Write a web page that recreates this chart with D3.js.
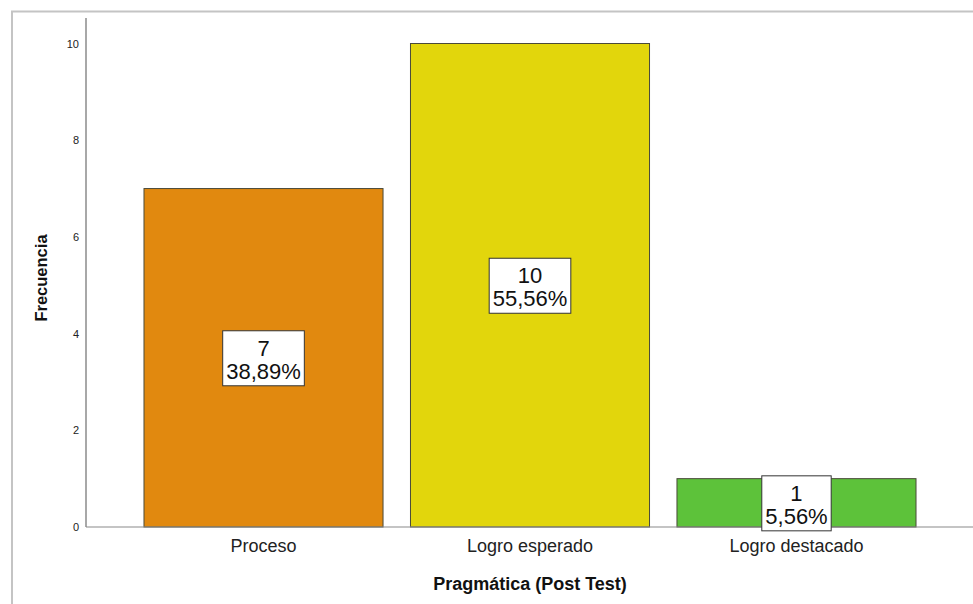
<!DOCTYPE html>
<html>
<head>
<meta charset="utf-8">
<script src="https://cdn.jsdelivr.net/npm/d3@7"></script>
<style>
  body { margin: 0; background: #fff; }
  text { font-family: Arial, "Liberation Sans", sans-serif; }
</style>
</head>
<body>
<div id="chart"></div>
<script>
// data
var categories = ["Proceso", "Logro esperado", "Logro destacado"];
var counts = [7, 10, 1];
var percents = ["38,89%", "55,56%", "5,56%"];
var yTicks = [0, 2, 4, 6, 8, 10];
var colors = ["#e1890f", "#e2d60c", "#5dc23a"];

var svgWidth = 973;
var svgHeight = 604;

var svg = d3.select("#chart")
    .append("svg")
    .attr("width", svgWidth)
    .attr("height", svgHeight);

// outer frame (top and left edges visible)
svg.append("path")
    .attr("d", "M12,604 V11.5 H973")
    .attr("fill", "none")
    .attr("stroke", "#c4c4c4")
    .attr("stroke-width", 2);

var xScale = d3.scaleBand()
    .domain(categories)
    .range([86, 974])
    .paddingInner(0.103)
    .paddingOuter(0.2176);

var yScale = d3.scaleLinear()
    .domain([0, 10])
    .range([527, 43.5]);

// bars
svg.selectAll("rect.bar")
    .data(counts)
    .enter()
    .append("rect")
    .attr("class", "bar")
    .attr("x", (d, i) => xScale(categories[i]))
    .attr("y", d => yScale(d))
    .attr("width", xScale.bandwidth())
    .attr("height", d => yScale(0) - yScale(d))
    .attr("fill", (d, i) => colors[i])
    .attr("stroke", "#4a4a3a")
    .attr("stroke-width", 1);

// axes
var leftAxis = d3.axisLeft(yScale).tickValues(yTicks).tickSize(0).tickPadding(7);
var gy = svg.append("g")
    .attr("transform", "translate(86,0)")
    .call(leftAxis);
gy.select(".domain").remove();
gy.selectAll("text").style("font-size", "11px").attr("fill", "#222");

svg.append("line")
    .attr("x1", 86).attr("x2", 86)
    .attr("y1", 18).attr("y2", 527)
    .attr("stroke", "#a8a8a8").attr("stroke-width", 2);

svg.append("line")
    .attr("x1", 86).attr("x2", 973)
    .attr("y1", 527).attr("y2", 527)
    .attr("stroke", "#8a8a8a").attr("stroke-width", 1.2);

var bottomAxis = d3.axisBottom(xScale).tickSize(0).tickPadding(12);
var gx = svg.append("g")
    .attr("transform", "translate(0,527)")
    .call(bottomAxis);
gx.select(".domain").remove();
gx.selectAll("text").style("font-size", "18px").attr("fill", "#222");

// value labels
var labels = svg.selectAll("g.lbl")
    .data(counts)
    .enter()
    .append("g")
    .attr("class", "lbl")
    .attr("transform", (d, i) => {
        var cx = xScale(categories[i]) + xScale.bandwidth() / 2;
        var cy = (yScale(d) + yScale(0)) / 2;
        return `translate(${cx}, ${cy})`;
    });

labels.each(function(d, i) {
    var g = d3.select(this);
    var rect = g.append("rect");
    var t1 = g.append("text")
        .attr("text-anchor", "middle")
        .attr("y", -2)
        .style("font-size", "22px")
        .attr("fill", "#111")
        .text(d);
    var t2 = g.append("text")
        .attr("text-anchor", "middle")
        .attr("y", 21)
        .style("font-size", "22px")
        .attr("fill", "#111")
        .text(percents[i]);
    var w = Math.max(t1.node().getComputedTextLength(), t2.node().getComputedTextLength()) + 7;
    rect.attr("x", -w / 2)
        .attr("y", -27)
        .attr("width", w)
        .attr("height", 55)
        .attr("fill", "#fff")
        .attr("stroke", "#333")
        .attr("stroke-width", 1);
});

// axis titles
svg.append("text")
    .attr("transform", "translate(47, 278) rotate(-90)")
    .attr("text-anchor", "middle")
    .style("font-size", "16.5px")
    .style("font-weight", "bold")
    .attr("fill", "#111")
    .text("Frecuencia");

svg.append("text")
    .attr("x", 530)
    .attr("y", 590)
    .attr("text-anchor", "middle")
    .style("font-size", "18px")
    .style("font-weight", "bold")
    .attr("fill", "#111")
    .text("Pragmática (Post Test)");
</script>
</body>
</html>
